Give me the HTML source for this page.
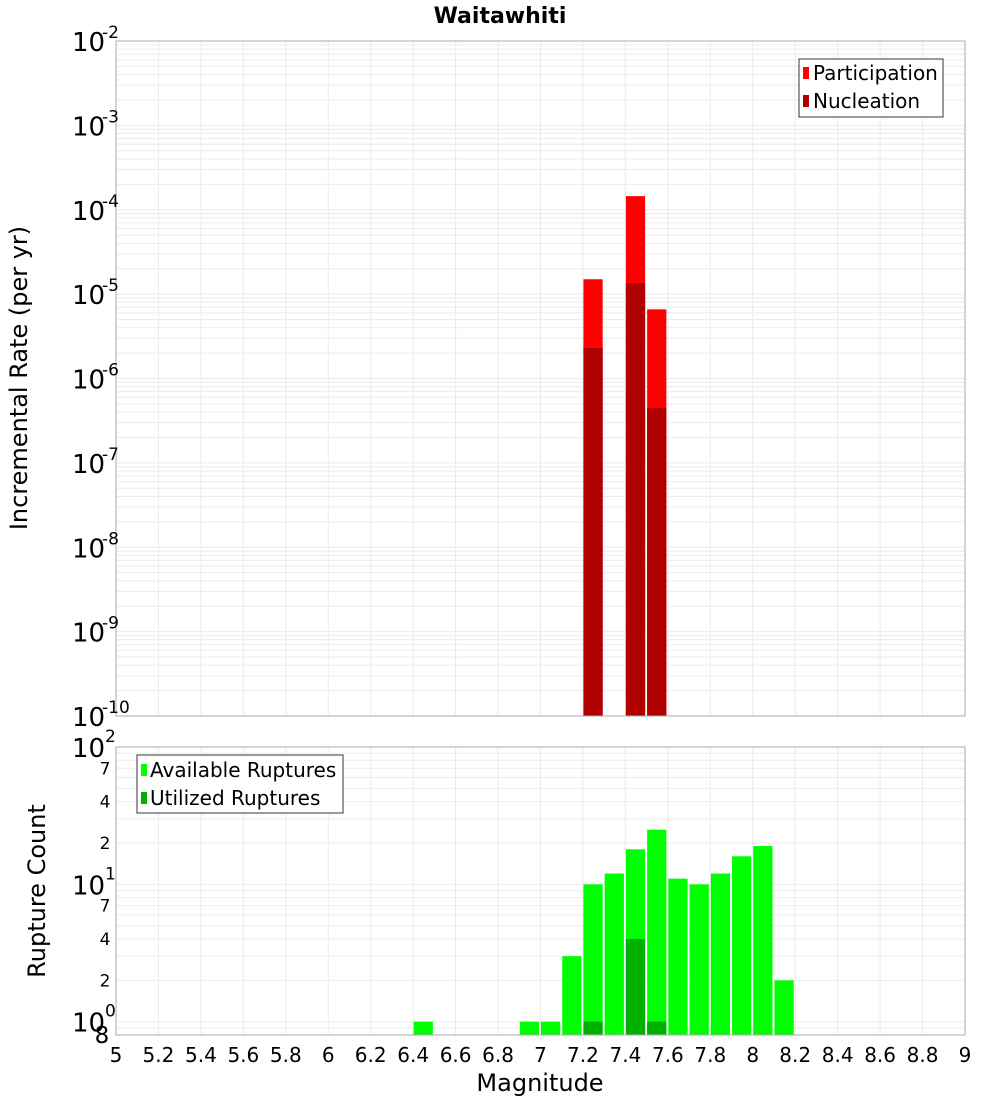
<!DOCTYPE html>
<html><head><meta charset="utf-8"><style>
body{margin:0;background:#fff;font-family:"Liberation Sans","DejaVu Sans",sans-serif;}
svg text{font-family:"DejaVu Sans","Liberation Sans",sans-serif;}
</style></head><body>
<svg id="chart" width="1000" height="1100" xmlns="http://www.w3.org/2000/svg">
<rect width="1000" height="1100" fill="#fff"/>
<text x="500" y="23" text-anchor="middle" font-size="22" font-weight="bold">Waitawhiti</text>
<g id="topg"></g><g id="botg"></g>
</svg>
<script>
const binCenters=[7.25,7.45,7.55];
const participation=[1.5e-5,1.45e-4,6.6e-6];
const nucleation=[2.3e-6,1.35e-5,4.5e-7];
const countCenters=[6.45,6.95,7.05,7.15,7.25,7.35,7.45,7.55,7.65,7.75,7.85,7.95,8.05,8.15];
const available=[1,1,1,3,10,12,18,25,11,10,12,16,19,2];
const utilCenters=[7.25,7.45,7.55];
const utilized=[1,4,1];
const xTicks=[5,5.2,5.4,5.6,5.8,6,6.2,6.4,6.6,6.8,7,7.2,7.4,7.6,7.8,8,8.2,8.4,8.6,8.8,9];
const topExps=[-2,-3,-4,-5,-6,-7,-8,-9,-10];
const botExps=[2,1,0];

const NS="http://www.w3.org/2000/svg";
const L=116,R=965;
function X(m){return L+(m-5)/4*(R-L);}
const T0=41,T1=716;
function Yt(v){return T0+(-2-Math.log10(v))/8*(T1-T0);}
const B0=747,B1=1035,bmin=Math.log10(0.8);
function Yb(v){return B0+(2-Math.log10(v))/(2-bmin)*(B1-B0);}
function el(p,t,a,txt){const e=document.createElementNS(NS,t);for(const k in a)e.setAttribute(k,a[k]);if(txt!==undefined)e.textContent=txt;p.appendChild(e);return e;}
const topG=document.getElementById('topg'),botG=document.getElementById('botg');

for(let e=-10;e<-2;e++)for(let k=1;k<10;k++){const y=Yt(k*Math.pow(10,e));if(y<T0||y>T1)continue;
 const g=el(topG,'line',{x1:L,x2:R,y1:y,y2:y,stroke:'#ebebeb','stroke-width':1});
 
 }
for(const t of xTicks){const x=X(t);
 const g=el(topG,'line',{x1:x,x2:x,y1:T0,y2:T1,stroke:'#ebebeb'});
 
 
 const g2=el(botG,'line',{x1:x,x2:x,y1:B0,y2:B1,stroke:'#ebebeb'});
 
 }
for(let e=-1;e<2;e++)for(let k=1;k<10;k++){const y=Yb(k*Math.pow(10,e));if(y<B0||y>B1)continue;
 const g=el(botG,'line',{x1:L,x2:R,y1:y,y2:y,stroke:'#ebebeb'});
 
 }

binCenters.forEach((c,i)=>{const x0=X(c-0.05)+0.5,x1=X(c+0.05)-1.5;
 const p=el(topG,'rect',{x:x0,y:Yt(participation[i]),width:x1-x0,height:T1-Yt(participation[i]),fill:'#ff0000'});
 
 
 const n=el(topG,'rect',{x:x0,y:Yt(nucleation[i]),width:x1-x0,height:T1-Yt(nucleation[i]),fill:'#b00000'});
 
 });
countCenters.forEach((c,i)=>{const x0=X(c-0.05)+0.5,x1=X(c+0.05)-1.5;
 const b=el(botG,'rect',{x:x0,y:Yb(available[i]),width:x1-x0,height:B1-Yb(available[i]),fill:'#00ff00'});
 
 });
utilCenters.forEach((c,i)=>{const x0=X(c-0.05)+0.5,x1=X(c+0.05)-1.5;
 const b=el(botG,'rect',{x:x0,y:Yb(utilized[i]),width:x1-x0,height:B1-Yb(utilized[i]),fill:'#00b000'});
 
 });

const f1=el(topG,'rect',{x:L,y:T0,width:R-L,height:T1-T0,fill:'none',stroke:'#aaa'});


const f2=el(botG,'rect',{x:L,y:B0,width:R-L,height:B1-B0,fill:'none',stroke:'#aaa'});



topExps.forEach(e=>{const y=Yt(Math.pow(10,e));
 const t=el(topG,'text',{x:72,y:y+10,'font-size':26},'10');
 
 
 const s=el(topG,'text',{x:102,y:y-3,'font-size':17},String(e));
 
 });
botExps.forEach(e=>{const y=Yb(Math.pow(10,e));
 const t=el(botG,'text',{x:72,y:y+10,'font-size':26},'10');
 
 
 const s=el(botG,'text',{x:105,y:y-5,'font-size':17},String(e));
 
 });
[[70,'7'],[40,'4'],[20,'2'],[7,'7'],[4,'4'],[2,'2'],[0.8,'8']].forEach(([v,l])=>{const y=Yb(v);
 const t=el(botG,'text',{x:v===0.8?102:105,y:y+(v===0.8?8:6),'font-size':v===0.8?23:17,'text-anchor':'middle'},l);
 
 });
xTicks.forEach(t=>{const e=el(botG,'text',{x:X(t),y:1062,'font-size':20,'text-anchor':'middle'},String(t));
 
 });
</script>
<svg style="position:absolute;left:0;top:0" width="1000" height="1100" xmlns="http://www.w3.org/2000/svg">
<text x="540" y="1091" text-anchor="middle" font-size="24" font-family="DejaVu Sans,sans-serif">Magnitude</text>
<text transform="translate(27,378) rotate(-90)" text-anchor="middle" font-size="24" font-family="DejaVu Sans,sans-serif">Incremental Rate (per yr)</text>
<text transform="translate(45,891) rotate(-90)" text-anchor="middle" font-size="24" font-family="DejaVu Sans,sans-serif">Rupture Count</text>
<g font-family="DejaVu Sans,sans-serif" font-size="20">
<rect x="799" y="59" width="144" height="58" fill="#fff" stroke="#333"/>
<rect x="803" y="67" width="6" height="12" fill="#ff0000"/><text x="813" y="80">Participation</text>
<rect x="803" y="95" width="6" height="12" fill="#b00000"/><text x="813" y="108">Nucleation</text>
</g>
<g font-family="DejaVu Sans,sans-serif" font-size="20">
<rect x="137" y="755" width="206" height="58" fill="#fff" stroke="#333"/>
<rect x="141" y="764" width="6" height="12" fill="#00ff00"/><text x="150" y="777">Available Ruptures</text>
<rect x="141" y="792" width="6" height="12" fill="#00b000"/><text x="150" y="805">Utilized Ruptures</text>
</g>
</svg>
</body></html>
